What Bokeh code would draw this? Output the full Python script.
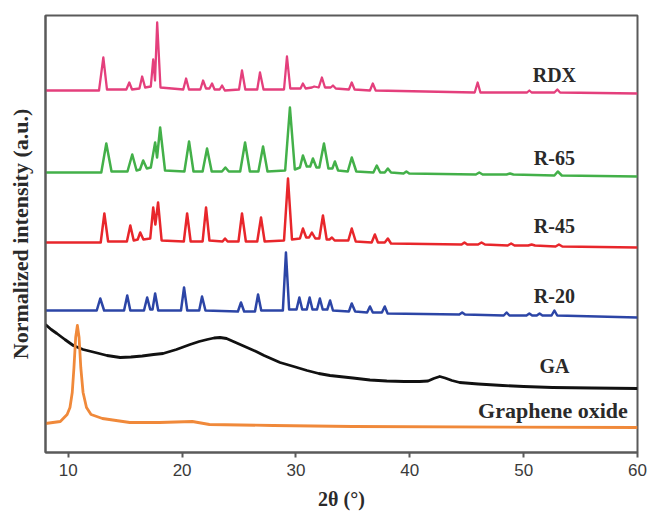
from bokeh.plotting import figure
from bokeh.models import Label, FixedTicker, Range1d
from bokeh.embed import file_html
from bokeh.resources import INLINE

# ---------------- data (2theta in degrees, normalized intensity in a.u., stacked) -------------
rdx_2theta = [8.0, 12.7, 13.08, 13.4, 15.1, 15.36, 15.6, 16.25, 16.49, 16.75, 17.25, 17.46, 17.62, 17.81, 18.1,
              20.1, 20.35, 20.6, 21.6, 21.84, 22.1, 22.4, 22.63, 22.85, 23.3, 23.51, 23.75, 25.0, 25.26, 25.55,
              26.6, 26.84, 27.15, 28.95, 29.21, 29.5, 30.4, 30.61, 30.85, 31.4, 31.6, 32.0, 32.28, 32.55, 33.05,
              33.25, 33.5, 34.65, 34.9, 35.15, 36.5, 36.75, 37.0, 45.7, 45.96, 46.2, 50.3, 50.5, 50.7, 52.7,
              52.96, 53.2, 60.0]
rdx_int = [3.62, 3.62, 3.95, 3.63, 3.63, 3.70, 3.63, 3.64, 3.76, 3.65, 3.66, 3.93, 3.72, 4.30, 3.65,
           3.63, 3.74, 3.63, 3.63, 3.72, 3.64, 3.64, 3.69, 3.63, 3.63, 3.67, 3.62, 3.63, 3.82, 3.63,
           3.63, 3.80, 3.63, 3.63, 3.96, 3.64, 3.64, 3.69, 3.64, 3.65, 3.66, 3.65, 3.75, 3.65, 3.65,
           3.67, 3.64, 3.63, 3.70, 3.63, 3.62, 3.69, 3.62, 3.60, 3.70, 3.60, 3.60, 3.62, 3.60, 3.60,
           3.63, 3.60, 3.59]

r65_2theta = [8.0, 12.9, 13.34, 13.8, 15.2, 15.62, 16.0, 16.3, 16.58, 16.9, 17.25, 17.63, 17.8, 18.07, 18.5,
              20.2, 20.61, 21.0, 21.8, 22.19, 22.6, 23.5, 23.8, 24.1, 25.1, 25.53, 25.95, 26.7, 27.11, 27.5,
              29.05, 29.47, 29.9, 30.35, 30.61, 30.95, 31.25, 31.49, 31.8, 32.05, 32.46, 32.85, 33.2, 33.42, 33.7,
              34.55, 34.9, 35.3, 36.8, 37.1, 37.4, 37.8, 38.07, 38.35, 39.45, 39.7, 39.95, 45.8, 46.1, 46.4,
              48.5, 48.8, 49.1, 52.7, 53.0, 53.35, 60.0]
r65_int = [2.80, 2.80, 3.09, 2.81, 2.81, 2.98, 2.82, 2.83, 2.92, 2.84, 2.85, 3.10, 2.95, 3.25, 2.82,
           2.81, 3.11, 2.81, 2.81, 3.04, 2.81, 2.81, 2.85, 2.81, 2.81, 3.10, 2.81, 2.81, 3.06, 2.81,
           2.82, 3.45, 2.83, 2.85, 2.97, 2.86, 2.86, 2.94, 2.85, 2.85, 3.09, 2.84, 2.84, 2.91, 2.82,
           2.81, 2.95, 2.81, 2.80, 2.87, 2.80, 2.80, 2.84, 2.80, 2.79, 2.81, 2.79, 2.78, 2.80, 2.78,
           2.78, 2.79, 2.78, 2.77, 2.81, 2.77, 2.76]

r45_2theta = [8.0, 12.85, 13.17, 13.5, 15.15, 15.45, 15.75, 16.1, 16.32, 16.6, 17.2, 17.46, 17.65, 17.89, 18.2,
              20.15, 20.44, 20.75, 21.8, 22.1, 22.4, 23.55, 23.77, 24.0, 24.95, 25.26, 25.6, 26.6, 26.93, 27.25,
              28.95, 29.3, 29.65, 30.35, 30.61, 30.9, 31.15, 31.4, 31.7, 32.05, 32.37, 32.7, 32.95, 33.16, 33.4,
              34.6, 34.9, 35.25, 36.65, 36.93, 37.2, 37.8, 38.07, 38.35, 44.55, 44.8, 45.05, 46.0, 46.3, 46.6,
              48.6, 48.9, 49.2, 50.4, 50.7, 51.0, 52.8, 53.1, 53.4, 60.0]
r45_int = [2.10, 2.10, 2.39, 2.11, 2.11, 2.27, 2.12, 2.13, 2.20, 2.13, 2.14, 2.45, 2.28, 2.50, 2.12,
           2.11, 2.39, 2.11, 2.11, 2.45, 2.12, 2.11, 2.14, 2.11, 2.11, 2.39, 2.11, 2.11, 2.35, 2.11,
           2.12, 2.74, 2.13, 2.14, 2.24, 2.15, 2.15, 2.20, 2.14, 2.14, 2.37, 2.13, 2.13, 2.15, 2.12,
           2.12, 2.24, 2.11, 2.10, 2.18, 2.10, 2.10, 2.14, 2.09, 2.08, 2.10, 2.08, 2.08, 2.10, 2.08,
           2.07, 2.09, 2.07, 2.07, 2.08, 2.07, 2.06, 2.08, 2.06, 2.05]

r20_2theta = [8.0, 12.5, 12.81, 13.15, 14.9, 15.18, 15.45, 16.65, 16.93, 17.2, 17.4, 17.63, 17.9, 19.9, 20.17,
              20.45, 21.5, 21.75, 22.05, 24.9, 25.17, 25.45, 26.4, 26.67, 26.95, 28.85, 29.12, 29.4, 30.05, 30.3,
              30.55, 30.95, 31.2, 31.45, 31.85, 32.1, 32.35, 32.75, 33.0, 33.25, 34.65, 34.9, 35.2, 36.25, 36.5,
              36.75, 37.55, 37.8, 38.05, 44.35, 44.6, 44.85, 48.25, 48.5, 48.75, 50.25, 50.5, 50.75, 51.15, 51.4,
              51.65, 52.45, 52.7, 52.95, 60.0]
r20_int = [1.42, 1.42, 1.54, 1.42, 1.42, 1.57, 1.42, 1.42, 1.55, 1.43, 1.43, 1.59, 1.42, 1.42, 1.65,
           1.42, 1.42, 1.56, 1.42, 1.41, 1.50, 1.41, 1.41, 1.58, 1.42, 1.42, 2.00, 1.43, 1.43, 1.55,
           1.43, 1.43, 1.55, 1.43, 1.43, 1.54, 1.43, 1.43, 1.52, 1.42, 1.41, 1.49, 1.41, 1.40, 1.46,
           1.40, 1.40, 1.46, 1.39, 1.38, 1.40, 1.38, 1.37, 1.40, 1.37, 1.37, 1.39, 1.37, 1.37, 1.39,
           1.37, 1.37, 1.42, 1.37, 1.35]

ga_2theta = [8.0, 8.5, 9.0, 9.7, 10.44, 11.3, 12.37, 13.4, 14.56, 15.5, 16.5, 17.5, 18.33, 19.5, 20.7,
             21.5, 22.2, 22.8, 23.33, 23.9, 24.5, 25.1, 25.7, 26.5, 27.2, 28.0, 28.6, 29.8, 30.97, 32.0,
             32.99, 35.0, 36.5, 37.98, 39.5, 40.87, 41.6, 42.1, 42.63, 43.1, 43.7, 44.38, 46.0, 48.15, 50.0,
             52.54, 56.0, 60.0]
ga_int = [1.28, 1.23, 1.19, 1.13, 1.07, 1.03, 1.00, 0.97, 0.95, 0.955, 0.965, 0.98, 0.99, 1.03, 1.08,
          1.11, 1.13, 1.145, 1.15, 1.14, 1.11, 1.08, 1.05, 1.01, 0.97, 0.93, 0.90, 0.86, 0.82, 0.79,
          0.77, 0.745, 0.725, 0.715, 0.71, 0.71, 0.715, 0.74, 0.76, 0.745, 0.72, 0.70, 0.685, 0.67, 0.66,
          0.65, 0.645, 0.64]

go_2theta = [8.0, 9.3, 9.9, 10.15, 10.35, 10.5, 10.65, 10.8, 10.95, 11.1, 11.3, 11.6, 12.0, 13.0, 15.4,
             18.0, 20.9, 22.4, 28.0, 35.0, 60.0]
go_int = [0.29, 0.31, 0.38, 0.45, 0.60, 0.85, 1.15, 1.27, 1.15, 0.85, 0.60, 0.45, 0.38, 0.34, 0.30,
          0.30, 0.31, 0.28, 0.27, 0.26, 0.25]

series_names = ["RDX", "R-65", "R-45", "R-20", "GA", "Graphene oxide"]
x_ticks = [10, 20, 30, 40, 50, 60]

# ---------------- figure ----------------
p = figure(width=649, height=514, output_backend="svg", toolbar_location=None,
           x_range=Range1d(8, 60), y_range=Range1d(0, 4.37),
           min_border_left=45, min_border_right=12, min_border_top=15, min_border_bottom=62)
p.background_fill_color = "white"
p.border_fill_color = "white"
p.xgrid.visible = False
p.ygrid.visible = False
p.outline_line_color = "#5a5a5a"
p.outline_line_width = 2

serif = "Liberation Serif"

p.xaxis.ticker = FixedTicker(ticks=x_ticks)
p.xaxis.minor_tick_line_color = None
p.xaxis.major_tick_in = 0
p.xaxis.major_tick_out = 5
p.xaxis.major_tick_line_color = "#5a5a5a"
p.xaxis.major_tick_line_width = 2
p.xaxis.axis_line_color = "#5a5a5a"
p.xaxis.axis_line_width = 2
p.xaxis.major_label_text_font = "Liberation Sans"
p.xaxis.major_label_text_font_size = "17px"
p.xaxis.major_label_text_color = "#3a3a3a"
p.xaxis.major_label_standoff = 6
p.xaxis.axis_label = "2θ (°)"
p.xaxis.axis_label_text_font = serif
p.xaxis.axis_label_text_font_style = "bold"
p.xaxis.axis_label_text_font_size = "20px"
p.xaxis.axis_label_text_color = "#2a2a2a"
p.xaxis.axis_label_standoff = 9

p.yaxis.ticker = FixedTicker(ticks=[])
p.yaxis.minor_tick_line_color = None
p.yaxis.major_tick_line_color = None
p.yaxis.axis_line_color = "#5a5a5a"
p.yaxis.axis_line_width = 2
p.yaxis.axis_label = "Normalized intensity (a.u.)"
p.yaxis.axis_label_text_font = serif
p.yaxis.axis_label_text_font_style = "bold"
p.yaxis.axis_label_text_font_size = "22px"
p.yaxis.axis_label_text_color = "#2a2a2a"
p.yaxis.axis_label_standoff = 13

colors = ["#E43F7C", "#43B049", "#E8262B", "#2C45A6", "#111111", "#F0893A"]
data = [(rdx_2theta, rdx_int), (r65_2theta, r65_int), (r45_2theta, r45_int),
        (r20_2theta, r20_int), (ga_2theta, ga_int), (go_2theta, go_int)]
widths = [2.3, 2.5, 2.5, 2.5, 2.8, 2.8]
for (xs, ys), c, w in zip(data, colors, widths):
    p.line(xs, ys, line_color=c, line_width=w, line_join="round")

# series labels
label_pos = [(52.7, 3.78, "center", "20px"), (52.7, 2.95, "center", "20px"),
             (52.7, 2.27, "center", "20px"), (52.7, 1.57, "center", "20px"),
             (52.7, 0.87, "center", "20px"), (59.15, 0.42, "right", "22px")]
for name, (lx, ly, al, fs) in zip(series_names, label_pos):
    p.add_layout(Label(x=lx, y=ly, text=name, text_font=serif, text_font_style="bold",
                       text_font_size=fs, text_color="#2a2a2a", text_align=al,
                       text_baseline="middle"))

open("out.html", "w").write(file_html(p, INLINE))
